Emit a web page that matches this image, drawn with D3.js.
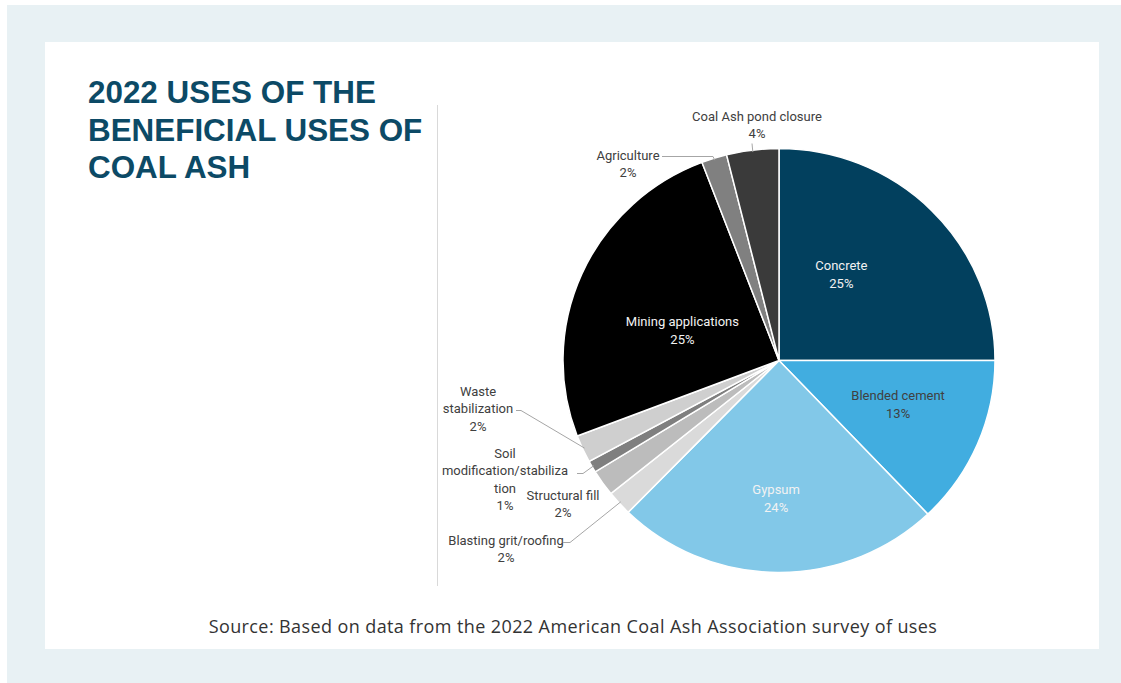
<!DOCTYPE html>
<html>
<head>
<meta charset="UTF-8">
<style>
  body { margin: 0; background: #fff; }
  svg { display: block; }
</style>
</head>
<body>
<div id="chart"></div>
<script src="https://d3js.org/d3.v7.min.js"></script>
<script>
  // Data (clockwise from 12 o'clock)
  const categories = ["Concrete", "Blended cement", "Gypsum", "Blasting grit/roofing", "Structural fill",
    "Soil modification/stabilization", "Waste stabilization", "Mining applications", "Agriculture", "Coal Ash pond closure"];
  const shares = [25.0, 12.9, 24.4, 1.9, 2.0, 0.9, 2.1, 25.0, 1.9, 3.9];
  const pctLabels = ["25%", "13%", "24%", "2%", "2%", "1%", "2%", "25%", "2%", "4%"];
  const sliceColors = ["#02405e", "#41ade0", "#82c8e8", "#dadada", "#bcbcbc", "#7f7f7f", "#cfcfcf", "#000000", "#808080", "#3a3a3a"];

  const W = 1121, H = 683;
  const cx = 779, cy = 360.5, r = 212;
  const sx = 216 / 212; // picture is a little wider than tall

  const svg = d3.select("#chart").append("svg")
    .attr("width", W).attr("height", H);

  // background frame + white panel
  svg.append("rect").attr("x", 7).attr("y", 5).attr("width", W - 7).attr("height", H - 5).attr("fill", "#e8f1f4");
  svg.append("rect").attr("x", 45).attr("y", 42).attr("width", 1054).attr("height", 607).attr("fill", "#ffffff");

  // title
  const title = svg.append("text")
    .attr("x", 88).attr("y", 103)
    .style("font-family", "'Liberation Sans', Arial, sans-serif")
    .style("font-weight", 700).style("font-size", "31.4px")
    .attr("fill", "#0c4a66");
  ["2022 USES OF THE", "BENEFICIAL USES OF", "COAL ASH"].forEach((t, i) => {
    title.append("tspan").attr("x", 88).attr("dy", i === 0 ? 0 : 37.5).text(t);
  });

  // divider
  svg.append("line").attr("x1", 437.5).attr("x2", 437.5).attr("y1", 105).attr("y2", 586)
    .attr("stroke", "#d9d9d9").attr("stroke-width", 1);

  // pie
  const pie = d3.pie().sort(null).value(d => d.v);
  const data = categories.map((c, i) => ({ name: c, v: shares[i], pct: pctLabels[i], color: sliceColors[i] }));
  const arcs = pie(data);
  const arc = d3.arc().innerRadius(0).outerRadius(r);

  svg.append("g")
    .attr("transform", `translate(${cx},${cy}) scale(${sx},1)`)
    .selectAll("path.slice")
    .data(arcs)
    .enter().append("path")
    .attr("class", "slice")
    .attr("d", arc)
    .attr("fill", d => d.data.color)
    .attr("stroke", "#ffffff")
    .attr("stroke-width", 1.5)
    .attr("vector-effect", "non-scaling-stroke");

  const g = svg.append("g").attr("transform", `translate(${cx},${cy})`);
  const font = "Roboto, 'Liberation Sans', sans-serif";
  const scaled = p => [p[0] * sx, p[1]];

  // inside labels: centroid at a fraction of the radius, plus a small nudge
  const inside = {
    "Concrete": { k: 0.5, nx: -14, ny: -12, fill: "#f2f2f2" },
    "Blended cement": { k: 0.6, nx: 0, ny: -7, fill: "#404040" },
    "Gypsum": { k: 0.65, nx: -2, ny: 0, fill: "#f2f2f2" },
    "Mining applications": { k: 0.5, nx: 2, ny: 13, fill: "#f2f2f2" }
  };
  arcs.filter(d => inside[d.data.name]).forEach(d => {
    const s = inside[d.data.name];
    const c = scaled(d3.arc().innerRadius(r * s.k).outerRadius(r * s.k).centroid(d));
    const x = c[0] + s.nx, y = c[1] + s.ny;
    const t = g.append("text")
      .attr("text-anchor", "middle")
      .style("font-family", font).style("font-size", "13px")
      .attr("fill", s.fill);
    t.append("tspan").attr("x", x).attr("y", y - 4).text(d.data.name);
    t.append("tspan").attr("x", x).attr("y", y + 14).text(d.data.pct);
  });

  // outside labels: text block placement relative to pie centre, and leader elbow points
  const outside = {
    "Coal Ash pond closure": { dx: -22, dy: -240, lines: ["Coal Ash pond closure"], leader: [[-27, -217]] },
    "Agriculture": { dx: -151, dy: -201, lines: ["Agriculture"], leader: [[-117, -204], [-66, -204]] },
    "Waste stabilization": { dx: -301, dy: 35, lines: ["Waste", "stabilization"], leader: [[-263, 50], [-258, 50]] },
    "Soil modification/stabilization": { dx: -274, dy: 97, lines: ["Soil", "modification/stabiliza", "tion"], leader: [[-202, 113], [-196, 113]] },
    "Structural fill": { dx: -216, dy: 139, lines: ["Structural fill"], leader: null },
    "Blasting grit/roofing": { dx: -273, dy: 184, lines: ["Blasting grit/roofing"], leader: [[-216, 182], [-209, 182]] }
  };

  arcs.filter(d => outside[d.data.name]).forEach(d => {
    const o = outside[d.data.name];
    const t = g.append("text")
      .attr("text-anchor", "middle")
      .style("font-family", font).style("font-size", "13px")
      .attr("fill", "#404040");
    o.lines.concat([d.data.pct]).forEach((ln, i) => {
      t.append("tspan").attr("x", o.dx).attr("y", o.dy + i * 17.5).text(ln);
    });
    if (o.leader) {
      const edge = scaled(d3.arc().innerRadius(r - 2).outerRadius(r - 2).centroid(d));
      g.append("path")
        .attr("d", d3.line()(o.leader.concat([edge])))
        .attr("fill", "none")
        .attr("stroke", "#a6a6a6")
        .attr("stroke-width", 1);
    }
  });

  // source
  svg.append("text")
    .attr("x", 573).attr("y", 633)
    .attr("text-anchor", "middle")
    .style("font-family", "'Open Sans', sans-serif").style("font-size", "18px")
    .style("letter-spacing", "0.4px")
    .attr("fill", "#333333")
    .text("Source: Based on data from the 2022 American Coal Ash Association survey of uses");
</script>
</body>
</html>
